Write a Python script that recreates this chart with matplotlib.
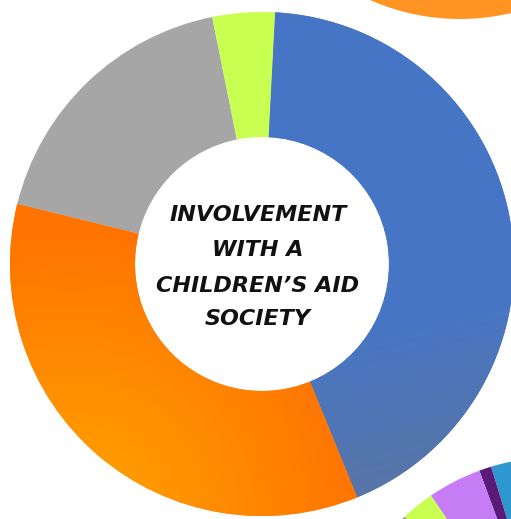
import numpy as np
import matplotlib.pyplot as plt
from matplotlib.colors import to_rgb

# main donut: share of respondents (percent), clockwise from top
labels = ["Blue", "Orange", "Gray", "Green"]
values = [43, 35, 18, 4]
colors = ["#4775C6", "#FF8210", "#A6A6A6", "#C9FF50"]

title_lines = ["INVOLVEMENT", "WITH A", "CHILDREN\u2019S AID", "SOCIETY"]

# neighbouring donuts that are cut off by the crop (degrees of arc)
corner_values = [360]
corner_colors = ["#FF9422"]
lower_values = [47, 3.2, 14.1, 8.7, 287]
lower_colors = ["#2F97CF", "#5A1A78", "#C57CF5", "#C9FF50", "#9A9A9A"]

W, H = 511, 519
fig = plt.figure(figsize=(W / 100, H / 100), dpi=100)
ax = fig.add_axes([0, 0, 1, 1])

wedges, _ = ax.pie(values, colors=colors, startangle=87, counterclock=False,
                   center=(262, H - 264), radius=252,
                   wedgeprops=dict(width=125, linewidth=0))
ax.pie(corner_values, colors=corner_colors, startangle=90,
       center=(460, H + 204), radius=223,
       wedgeprops=dict(width=110, linewidth=0))
ax.pie(lower_values, colors=lower_colors, startangle=60,
       center=(556, H - 679), radius=222,
       wedgeprops=dict(width=110, linewidth=0))

xx, yy = np.meshgrid(np.arange(W) + 0.5, np.arange(H) + 0.5)


def paint(wedge, t, c0, c1):
    t = np.clip(t, 0, 1)[..., None]
    img = (1 - t) * np.array(to_rgb(c0)) + t * np.array(to_rgb(c1))
    im = ax.imshow(img, origin="lower", extent=(0, W, 0, H), zorder=1.5,
                   interpolation="bilinear")
    im.set_clip_path(wedge)


# blue: flat, going a little greyish toward the bottom
p0, p1 = np.array([330, H - 330]), np.array([370, H - 500])
d = p1 - p0
paint(wedges[0], ((xx - p0[0]) * d[0] + (yy - p0[1]) * d[1]) / (d @ d),
      "#4775C6", "#5876A6")
# orange: yellowish glow at the lower-left outer edge
r = np.hypot(xx - 70, yy - (H - 520)) / 290
paint(wedges[1], r, "#FFA600", "#FF7400")

ys = [215, 250, 286, 319]
for txt, y in zip(title_lines, ys):
    ax.text(258, H - y, txt, ha="center", va="center", fontsize=16,
            fontweight="heavy", fontstyle="italic", family="DejaVu Sans",
            color="#111111", zorder=3)

ax.set_xlim(0, W)
ax.set_ylim(0, H)
ax.set_aspect("equal")
ax.axis("off")
fig.savefig("out.png", dpi=100, facecolor="white")
